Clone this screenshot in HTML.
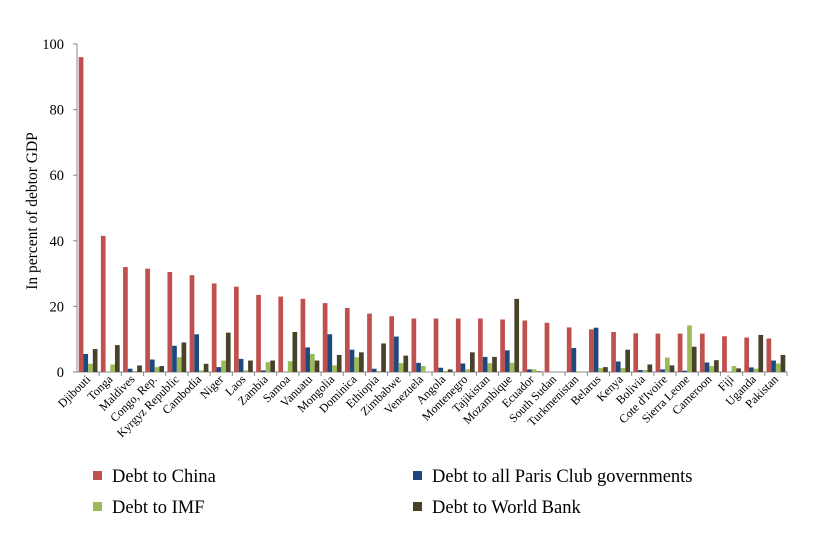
<!DOCTYPE html>
<html><head><meta charset="utf-8"><style>
body{margin:0;background:#fff;}
svg{font-family:"Liberation Serif",serif;}
</style></head><body>
<svg id="chart" width="817" height="543" xmlns="http://www.w3.org/2000/svg">
<text x="0" y="0" transform="translate(37,211) rotate(-90)" text-anchor="middle" font-size="15.5">In percent of debtor GDP</text>
<g id="legend" font-size="18.5">
<rect x="93" y="471" width="9" height="9" fill="#c0504d"/>
<text x="112" y="482">Debt to China</text>
<rect x="413" y="471" width="9" height="9" fill="#1f497d"/>
<text x="432" y="482">Debt to all Paris Club governments</text>
<rect x="93" y="502" width="9" height="9" fill="#9bbb59"/>
<text x="112" y="513">Debt to IMF</text>
<rect x="413" y="502" width="9" height="9" fill="#4a412a"/>
<text x="432" y="513">Debt to World Bank</text>
</g>
</svg>
<script>
const categories=["Djibouti","Tonga","Maldives","Congo, Rep.","Kyrgyz Republic","Cambodia","Niger","Laos","Zambia","Samoa","Vanuatu","Mongolia","Dominica","Ethiopia","Zimbabwe","Venezuela","Angola","Montenegro","Tajikistan","Mozambique","Ecuador","South Sudan","Turkmenistan","Belarus","Kenya","Bolivia","Cote d'Ivoire","Sierra Leone","Cameroon","Fiji","Uganda","Pakistan"];
const china=[96,41.5,32,31.5,30.5,29.5,27,26,23.5,23,22.3,21,19.5,17.8,17,16.3,16.3,16.3,16.3,16,15.7,15,13.6,13,12.2,11.8,11.7,11.7,11.7,10.9,10.5,10.2];
const paris=[5.5,0,1,3.8,8,11.5,1.5,4,0.5,0,7.5,11.5,6.8,1,10.8,2.8,1.3,2.6,4.6,6.6,0.8,0,7.3,13.5,3.2,0.6,0.8,0.4,2.9,0,1.4,3.5];
const imf=[2.5,2.3,0.3,1.5,4.5,0.5,3.5,0.5,3,3.3,5.5,2,4.5,0.3,2.7,1.8,0.3,0.8,2.7,2.8,0.8,0,0.2,1.2,1.2,0.6,4.4,14.2,1.8,1.8,1,2.6];
const worldBank=[7,8.2,2,1.8,9,2.5,12,3.5,3.5,12.2,3.5,5.2,6,8.7,5,0,0.8,6,4.6,22.3,0.2,0,0,1.5,6.8,2.3,2,7.7,3.6,1.1,11.3,5.2];
const yTicks=[0,20,40,60,80,100];
const series=[{v:china,c:"#c0504d",n:"china"},{v:paris,c:"#1f497d",n:"paris-club"},{v:imf,c:"#9bbb59",n:"imf"},{v:worldBank,c:"#4a412a",n:"world-bank"}];
const X0=77,X1=787,Y0=372,Y1=44;
const bw=(X1-X0)/categories.length;
const y=v=>Y0-(v/100)*(Y0-Y1);
const x=i=>X0+i*bw;
const svg=document.getElementById('chart');
const NS="http://www.w3.org/2000/svg";
function mk(t,a){const e=document.createElementNS(NS,t);for(const k in a)e.setAttribute(k,a[k]);svg.appendChild(e);return e;}
yTicks.forEach(t=>{
  const l=mk('line',{x1:X0-4,x2:X0,y1:y(t),y2:y(t),stroke:'#888'});
  
  
  const tx=mk('text',{x:X0-13,y:y(t)+5,'text-anchor':'end','font-size':14.5});
  tx.textContent=t;
  
  
});
const ax=mk('line',{x1:X0,x2:X0,y1:Y1,y2:Y0,stroke:'#888'});


const xa=mk('line',{x1:X0,x2:X1,y1:Y0,y2:Y0,stroke:'#888'});


const barW=4.7;
categories.forEach((c,i)=>{
  const tk=mk('line',{x1:x(i+1),x2:x(i+1),y1:Y0,y2:Y0+4,stroke:'#888'});
  
  
  series.forEach((s,j)=>{
    const bx=x(i)+bw/2-2*barW+j*barW;
    const r=mk('rect',{x:bx,y:y(s.v[i]),width:barW,height:Y0-y(s.v[i]),fill:s.c});
    
    
  });
  const cx=x(i)+bw/2+3, cy=Y0+8;
  const t=mk('text',{x:cx,y:cy,'text-anchor':'end','font-size':12,transform:`rotate(-45 ${cx} ${cy})`});
  t.textContent=c;
  
  
});
</script>
</body></html>
